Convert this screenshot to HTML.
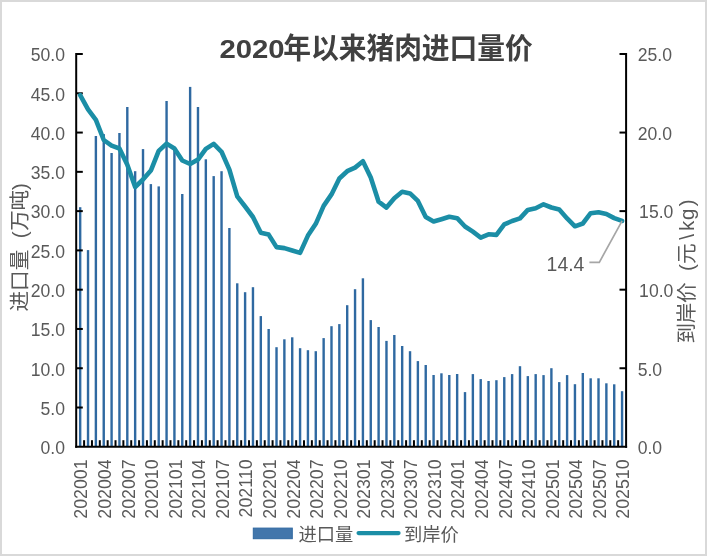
<!DOCTYPE html>
<html lang="zh-CN"><head><meta charset="utf-8"><title>2020年以来猪肉进口量价</title>
<style>
html,body{margin:0;padding:0;background:#fff;}
body{width:707px;height:556px;overflow:hidden;}
svg{display:block;}
text{font-family:"Liberation Sans","Noto Sans CJK SC",sans-serif;fill:#595959;}
.ax{font-size:17.6px;}
</style></head><body>
<svg width="707" height="556" viewBox="0 0 707 556">
<rect x="0" y="0" width="707" height="556" fill="#ffffff"/>
<rect x="1" y="1" width="705" height="554" fill="none" stroke="#d9d9d9" stroke-width="2"/>

<g fill="#2f69a1">
<rect x="78.98" y="207.2" width="2.4" height="239.6"/>
<rect x="86.83" y="250.1" width="2.4" height="196.7"/>
<rect x="94.68" y="136.0" width="2.4" height="310.8"/>
<rect x="102.54" y="134.1" width="2.4" height="312.7"/>
<rect x="110.39" y="153.0" width="2.4" height="293.8"/>
<rect x="118.24" y="133.0" width="2.4" height="313.8"/>
<rect x="126.10" y="107.0" width="2.4" height="339.8"/>
<rect x="133.95" y="171.2" width="2.4" height="275.6"/>
<rect x="141.81" y="149.1" width="2.4" height="297.7"/>
<rect x="149.66" y="184.1" width="2.4" height="262.7"/>
<rect x="157.51" y="186.4" width="2.4" height="260.4"/>
<rect x="165.37" y="101.0" width="2.4" height="345.8"/>
<rect x="173.22" y="148.0" width="2.4" height="298.8"/>
<rect x="181.07" y="194.0" width="2.4" height="252.8"/>
<rect x="188.93" y="86.9" width="2.4" height="359.9"/>
<rect x="196.78" y="107.0" width="2.4" height="339.8"/>
<rect x="204.63" y="159.3" width="2.4" height="287.5"/>
<rect x="212.49" y="176.1" width="2.4" height="270.7"/>
<rect x="220.34" y="171.2" width="2.4" height="275.6"/>
<rect x="228.19" y="228.0" width="2.4" height="218.8"/>
<rect x="236.05" y="283.3" width="2.4" height="163.5"/>
<rect x="243.90" y="292.2" width="2.4" height="154.6"/>
<rect x="251.76" y="287.2" width="2.4" height="159.6"/>
<rect x="259.61" y="316.1" width="2.4" height="130.7"/>
<rect x="267.46" y="329.0" width="2.4" height="117.8"/>
<rect x="275.32" y="347.2" width="2.4" height="99.6"/>
<rect x="283.17" y="339.3" width="2.4" height="107.5"/>
<rect x="291.02" y="337.3" width="2.4" height="109.5"/>
<rect x="298.88" y="348.2" width="2.4" height="98.6"/>
<rect x="306.73" y="350.2" width="2.4" height="96.6"/>
<rect x="314.58" y="351.2" width="2.4" height="95.6"/>
<rect x="322.44" y="338.1" width="2.4" height="108.7"/>
<rect x="330.29" y="326.2" width="2.4" height="120.6"/>
<rect x="338.14" y="324.1" width="2.4" height="122.7"/>
<rect x="346.00" y="305.2" width="2.4" height="141.6"/>
<rect x="353.85" y="289.2" width="2.4" height="157.6"/>
<rect x="361.71" y="278.3" width="2.4" height="168.5"/>
<rect x="369.56" y="320.1" width="2.4" height="126.7"/>
<rect x="377.41" y="327.0" width="2.4" height="119.8"/>
<rect x="385.27" y="340.9" width="2.4" height="105.9"/>
<rect x="393.12" y="335.0" width="2.4" height="111.8"/>
<rect x="400.97" y="346.0" width="2.4" height="100.8"/>
<rect x="408.83" y="351.2" width="2.4" height="95.6"/>
<rect x="416.68" y="361.1" width="2.4" height="85.7"/>
<rect x="424.53" y="365.0" width="2.4" height="81.8"/>
<rect x="432.39" y="375.0" width="2.4" height="71.8"/>
<rect x="440.24" y="373.3" width="2.4" height="73.5"/>
<rect x="448.09" y="375.0" width="2.4" height="71.8"/>
<rect x="455.95" y="374.0" width="2.4" height="72.8"/>
<rect x="463.80" y="392.1" width="2.4" height="54.7"/>
<rect x="471.66" y="374.1" width="2.4" height="72.7"/>
<rect x="479.51" y="379.1" width="2.4" height="67.7"/>
<rect x="487.36" y="381.0" width="2.4" height="65.8"/>
<rect x="495.22" y="380.2" width="2.4" height="66.6"/>
<rect x="503.07" y="377.1" width="2.4" height="69.7"/>
<rect x="510.92" y="374.1" width="2.4" height="72.7"/>
<rect x="518.78" y="366.2" width="2.4" height="80.6"/>
<rect x="526.63" y="376.1" width="2.4" height="70.7"/>
<rect x="534.48" y="374.1" width="2.4" height="72.7"/>
<rect x="542.34" y="375.1" width="2.4" height="71.7"/>
<rect x="550.19" y="368.2" width="2.4" height="78.6"/>
<rect x="558.04" y="382.1" width="2.4" height="64.7"/>
<rect x="565.90" y="375.1" width="2.4" height="71.7"/>
<rect x="573.75" y="384.2" width="2.4" height="62.6"/>
<rect x="581.61" y="373.0" width="2.4" height="73.8"/>
<rect x="589.46" y="378.3" width="2.4" height="68.5"/>
<rect x="597.31" y="378.3" width="2.4" height="68.5"/>
<rect x="605.17" y="383.3" width="2.4" height="63.5"/>
<rect x="613.02" y="384.3" width="2.4" height="62.5"/>
<rect x="620.87" y="391.2" width="2.4" height="55.6"/>
</g>
<g stroke="#000" stroke-width="2" fill="none">
<line x1="76.2" y1="53.0" x2="76.2" y2="447.8"/>
<line x1="626.1" y1="53.0" x2="626.1" y2="447.8"/>
<line x1="75.2" y1="446.8" x2="627.1" y2="446.8"/>
</g>
<g stroke="#000" stroke-width="2" fill="none">
<line x1="76.2" y1="407.52" x2="82.8" y2="407.52"/>
<line x1="76.2" y1="368.24" x2="82.8" y2="368.24"/>
<line x1="76.2" y1="328.96" x2="82.8" y2="328.96"/>
<line x1="76.2" y1="289.68" x2="82.8" y2="289.68"/>
<line x1="76.2" y1="250.40" x2="82.8" y2="250.40"/>
<line x1="76.2" y1="211.12" x2="82.8" y2="211.12"/>
<line x1="76.2" y1="171.84" x2="82.8" y2="171.84"/>
<line x1="76.2" y1="132.56" x2="82.8" y2="132.56"/>
<line x1="76.2" y1="93.28" x2="82.8" y2="93.28"/>
<line x1="76.2" y1="54.00" x2="82.8" y2="54.00"/>
<line x1="626.1" y1="368.24" x2="619.5" y2="368.24"/>
<line x1="626.1" y1="289.68" x2="619.5" y2="289.68"/>
<line x1="626.1" y1="211.12" x2="619.5" y2="211.12"/>
<line x1="626.1" y1="132.56" x2="619.5" y2="132.56"/>
<line x1="626.1" y1="54.00" x2="619.5" y2="54.00"/>
<line x1="84.10" y1="446.8" x2="84.10" y2="440.2"/>
<line x1="91.96" y1="446.8" x2="91.96" y2="440.2"/>
<line x1="99.81" y1="446.8" x2="99.81" y2="440.2"/>
<line x1="107.66" y1="446.8" x2="107.66" y2="440.2"/>
<line x1="115.52" y1="446.8" x2="115.52" y2="440.2"/>
<line x1="123.37" y1="446.8" x2="123.37" y2="440.2"/>
<line x1="131.22" y1="446.8" x2="131.22" y2="440.2"/>
<line x1="139.08" y1="446.8" x2="139.08" y2="440.2"/>
<line x1="146.93" y1="446.8" x2="146.93" y2="440.2"/>
<line x1="154.79" y1="446.8" x2="154.79" y2="440.2"/>
<line x1="162.64" y1="446.8" x2="162.64" y2="440.2"/>
<line x1="170.49" y1="446.8" x2="170.49" y2="440.2"/>
<line x1="178.35" y1="446.8" x2="178.35" y2="440.2"/>
<line x1="186.20" y1="446.8" x2="186.20" y2="440.2"/>
<line x1="194.05" y1="446.8" x2="194.05" y2="440.2"/>
<line x1="201.91" y1="446.8" x2="201.91" y2="440.2"/>
<line x1="209.76" y1="446.8" x2="209.76" y2="440.2"/>
<line x1="217.61" y1="446.8" x2="217.61" y2="440.2"/>
<line x1="225.47" y1="446.8" x2="225.47" y2="440.2"/>
<line x1="233.32" y1="446.8" x2="233.32" y2="440.2"/>
<line x1="241.18" y1="446.8" x2="241.18" y2="440.2"/>
<line x1="249.03" y1="446.8" x2="249.03" y2="440.2"/>
<line x1="256.88" y1="446.8" x2="256.88" y2="440.2"/>
<line x1="264.74" y1="446.8" x2="264.74" y2="440.2"/>
<line x1="272.59" y1="446.8" x2="272.59" y2="440.2"/>
<line x1="280.44" y1="446.8" x2="280.44" y2="440.2"/>
<line x1="288.30" y1="446.8" x2="288.30" y2="440.2"/>
<line x1="296.15" y1="446.8" x2="296.15" y2="440.2"/>
<line x1="304.00" y1="446.8" x2="304.00" y2="440.2"/>
<line x1="311.86" y1="446.8" x2="311.86" y2="440.2"/>
<line x1="319.71" y1="446.8" x2="319.71" y2="440.2"/>
<line x1="327.56" y1="446.8" x2="327.56" y2="440.2"/>
<line x1="335.42" y1="446.8" x2="335.42" y2="440.2"/>
<line x1="343.27" y1="446.8" x2="343.27" y2="440.2"/>
<line x1="351.12" y1="446.8" x2="351.12" y2="440.2"/>
<line x1="358.98" y1="446.8" x2="358.98" y2="440.2"/>
<line x1="366.83" y1="446.8" x2="366.83" y2="440.2"/>
<line x1="374.69" y1="446.8" x2="374.69" y2="440.2"/>
<line x1="382.54" y1="446.8" x2="382.54" y2="440.2"/>
<line x1="390.39" y1="446.8" x2="390.39" y2="440.2"/>
<line x1="398.25" y1="446.8" x2="398.25" y2="440.2"/>
<line x1="406.10" y1="446.8" x2="406.10" y2="440.2"/>
<line x1="413.95" y1="446.8" x2="413.95" y2="440.2"/>
<line x1="421.81" y1="446.8" x2="421.81" y2="440.2"/>
<line x1="429.66" y1="446.8" x2="429.66" y2="440.2"/>
<line x1="437.51" y1="446.8" x2="437.51" y2="440.2"/>
<line x1="445.37" y1="446.8" x2="445.37" y2="440.2"/>
<line x1="453.22" y1="446.8" x2="453.22" y2="440.2"/>
<line x1="461.07" y1="446.8" x2="461.07" y2="440.2"/>
<line x1="468.93" y1="446.8" x2="468.93" y2="440.2"/>
<line x1="476.78" y1="446.8" x2="476.78" y2="440.2"/>
<line x1="484.64" y1="446.8" x2="484.64" y2="440.2"/>
<line x1="492.49" y1="446.8" x2="492.49" y2="440.2"/>
<line x1="500.34" y1="446.8" x2="500.34" y2="440.2"/>
<line x1="508.20" y1="446.8" x2="508.20" y2="440.2"/>
<line x1="516.05" y1="446.8" x2="516.05" y2="440.2"/>
<line x1="523.90" y1="446.8" x2="523.90" y2="440.2"/>
<line x1="531.76" y1="446.8" x2="531.76" y2="440.2"/>
<line x1="539.61" y1="446.8" x2="539.61" y2="440.2"/>
<line x1="547.46" y1="446.8" x2="547.46" y2="440.2"/>
<line x1="555.32" y1="446.8" x2="555.32" y2="440.2"/>
<line x1="563.17" y1="446.8" x2="563.17" y2="440.2"/>
<line x1="571.02" y1="446.8" x2="571.02" y2="440.2"/>
<line x1="578.88" y1="446.8" x2="578.88" y2="440.2"/>
<line x1="586.73" y1="446.8" x2="586.73" y2="440.2"/>
<line x1="594.59" y1="446.8" x2="594.59" y2="440.2"/>
<line x1="602.44" y1="446.8" x2="602.44" y2="440.2"/>
<line x1="610.29" y1="446.8" x2="610.29" y2="440.2"/>
<line x1="618.15" y1="446.8" x2="618.15" y2="440.2"/>
</g>
<polyline points="80.18,95.2 88.03,109.4 95.88,119.9 103.74,140.0 111.59,145.7 119.44,148.5 127.30,164.7 135.15,187.0 143.01,179.5 150.86,170.6 158.71,150.9 166.57,143.6 174.42,148.5 182.27,160.5 190.13,164.0 197.98,159.6 205.83,148.9 213.69,143.9 221.54,151.8 229.39,169.6 237.25,196.3 245.10,206.5 252.96,217.0 260.81,232.8 268.66,234.6 276.52,247.1 284.37,248.1 292.22,250.5 300.08,252.9 307.93,235.6 315.78,223.8 323.64,205.9 331.49,194.4 339.34,178.5 347.20,171.2 355.05,167.6 362.91,161.3 370.76,177.5 378.61,201.7 386.47,207.6 394.32,198.3 402.17,191.8 410.03,193.4 417.88,200.9 425.73,217.1 433.59,221.5 441.44,219.2 449.29,216.8 457.15,218.2 465.00,226.5 472.86,231.7 480.71,237.6 488.56,234.3 496.42,234.9 504.27,224.4 512.12,221.0 519.98,218.4 527.83,209.9 535.68,208.2 543.54,204.3 551.39,207.5 559.24,209.5 567.10,218.4 574.95,226.3 582.81,223.5 590.66,213.2 598.51,212.2 606.37,214.0 614.22,218.1 622.07,220.9" fill="none" stroke="#1b8ea6" stroke-width="4.6" stroke-linecap="round" stroke-linejoin="round"/>
<polyline points="622.1,220.9 599.3,262.3 589.4,262.3" fill="none" stroke="#a6a6a6" stroke-width="1.7"/>
<text class="ax" x="546.6" y="270.5" style="font-size:19.4px">14.4</text>
<text class="ax" x="65" y="454.1" text-anchor="end">0.0</text>
<text class="ax" x="65" y="414.8" text-anchor="end">5.0</text>
<text class="ax" x="65" y="375.5" text-anchor="end">10.0</text>
<text class="ax" x="65" y="336.3" text-anchor="end">15.0</text>
<text class="ax" x="65" y="297.0" text-anchor="end">20.0</text>
<text class="ax" x="65" y="257.7" text-anchor="end">25.0</text>
<text class="ax" x="65" y="218.4" text-anchor="end">30.0</text>
<text class="ax" x="65" y="179.1" text-anchor="end">35.0</text>
<text class="ax" x="65" y="139.9" text-anchor="end">40.0</text>
<text class="ax" x="65" y="100.6" text-anchor="end">45.0</text>
<text class="ax" x="65" y="61.3" text-anchor="end">50.0</text>
<text class="ax" x="637.7" y="454.1">0.0</text>
<text class="ax" x="637.7" y="375.5">5.0</text>
<text class="ax" x="639.1" y="297.0">10.0</text>
<text class="ax" x="639.1" y="218.4">15.0</text>
<text class="ax" x="637.7" y="139.9">20.0</text>
<text class="ax" x="637.7" y="61.3">25.0</text>
<text class="ax" transform="translate(87.48,459.4) rotate(-90)" text-anchor="end" style="font-size:17.8px">202001</text>
<text class="ax" transform="translate(111.04,459.4) rotate(-90)" text-anchor="end" style="font-size:17.8px">202004</text>
<text class="ax" transform="translate(134.60,459.4) rotate(-90)" text-anchor="end" style="font-size:17.8px">202007</text>
<text class="ax" transform="translate(158.16,459.4) rotate(-90)" text-anchor="end" style="font-size:17.8px">202010</text>
<text class="ax" transform="translate(181.72,459.4) rotate(-90)" text-anchor="end" style="font-size:17.8px">202101</text>
<text class="ax" transform="translate(205.28,459.4) rotate(-90)" text-anchor="end" style="font-size:17.8px">202104</text>
<text class="ax" transform="translate(228.84,459.4) rotate(-90)" text-anchor="end" style="font-size:17.8px">202107</text>
<text class="ax" transform="translate(252.40,459.4) rotate(-90)" text-anchor="end" style="font-size:17.8px">202110</text>
<text class="ax" transform="translate(275.96,459.4) rotate(-90)" text-anchor="end" style="font-size:17.8px">202201</text>
<text class="ax" transform="translate(299.52,459.4) rotate(-90)" text-anchor="end" style="font-size:17.8px">202204</text>
<text class="ax" transform="translate(323.08,459.4) rotate(-90)" text-anchor="end" style="font-size:17.8px">202207</text>
<text class="ax" transform="translate(346.64,459.4) rotate(-90)" text-anchor="end" style="font-size:17.8px">202210</text>
<text class="ax" transform="translate(370.21,459.4) rotate(-90)" text-anchor="end" style="font-size:17.8px">202301</text>
<text class="ax" transform="translate(393.77,459.4) rotate(-90)" text-anchor="end" style="font-size:17.8px">202304</text>
<text class="ax" transform="translate(417.33,459.4) rotate(-90)" text-anchor="end" style="font-size:17.8px">202307</text>
<text class="ax" transform="translate(440.89,459.4) rotate(-90)" text-anchor="end" style="font-size:17.8px">202310</text>
<text class="ax" transform="translate(464.45,459.4) rotate(-90)" text-anchor="end" style="font-size:17.8px">202401</text>
<text class="ax" transform="translate(488.01,459.4) rotate(-90)" text-anchor="end" style="font-size:17.8px">202404</text>
<text class="ax" transform="translate(511.57,459.4) rotate(-90)" text-anchor="end" style="font-size:17.8px">202407</text>
<text class="ax" transform="translate(535.13,459.4) rotate(-90)" text-anchor="end" style="font-size:17.8px">202410</text>
<text class="ax" transform="translate(558.69,459.4) rotate(-90)" text-anchor="end" style="font-size:17.8px">202501</text>
<text class="ax" transform="translate(582.25,459.4) rotate(-90)" text-anchor="end" style="font-size:17.8px">202504</text>
<text class="ax" transform="translate(605.81,459.4) rotate(-90)" text-anchor="end" style="font-size:17.8px">202507</text>
<text class="ax" transform="translate(629.37,459.4) rotate(-90)" text-anchor="end" style="font-size:17.8px">202510</text>
<text transform="translate(219.4,58.6) scale(1,1.05)" style="font-weight:bold;fill:#404040"><tspan x="0" y="-1.05" textLength="65.26" lengthAdjust="spacingAndGlyphs" style="font-size:24.95px">2020</tspan><tspan x="63.8" y="0" style="font-size:27.75px">年以来猪肉进口量价</tspan></text>
<text transform="translate(27,311.5) rotate(-90)" x="0 20.6 41.2 61.8 73.2 80.7 100.9 121.5" style="font-size:20.6px">进口量 (万吨)</text>
<text transform="translate(694.4,343.5) rotate(-90)" x="0 20.2 40.4 60.6 72.6 79.6 103.8 112.4 123.6 137.3" style="font-size:20.6px">到岸价 (元\kg)</text>
<rect x="253.3" y="528.1" width="39" height="10.6" fill="#4276ab" stroke="#3068a0" stroke-width="1"/>
<text x="298.5" y="540.5" style="font-size:18.3px">进口量</text>
<line x1="358.6" y1="533.1" x2="398.5" y2="533.1" stroke="#1b8ea6" stroke-width="4.3" stroke-linecap="round"/>
<text x="404" y="540.5" style="font-size:18.3px">到岸价</text>
</svg></body></html>
